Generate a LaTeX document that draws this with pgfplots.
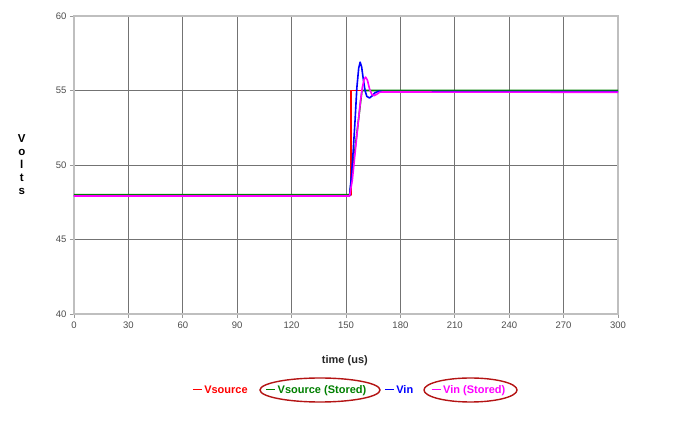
\documentclass[border=0pt]{standalone}
\usepackage{pgfplots}
\pgfplotsset{compat=1.18}
\usepackage{fontspec}
\setmainfont{Liberation Sans}
\definecolor{vgreen}{RGB}{0,128,0}
\definecolor{vred}{RGB}{255,0,0}
\definecolor{vblue}{RGB}{0,0,255}
\definecolor{vmag}{RGB}{255,0,255}
\definecolor{ringred}{RGB}{180,20,20}
\begin{document}
\begin{tikzpicture}[x=1pt,y=1pt]
\begin{axis}[
  at={(0,0)}, anchor=south west,
  scale only axis, width=544pt, height=298pt,
  xmin=0, xmax=300, ymin=40, ymax=60,
  xtick distance=30, ytick distance=5,
  xtick pos=lower, ytick pos=left,
  tick align=outside, major tick length=4pt,
  tick style={black!40, line width=0.8pt},
  grid=major, major grid style={black!55, line width=0.8pt},
  axis line style={black!25, line width=1.6pt},
  /pgf/number format/assume math mode=true,
  ticklabel style={font=\fontsize{9.5}{11}\selectfont, text=black!70},
  xlabel={\bfseries time (us)},
  xlabel style={font=\fontsize{11}{13}\selectfont, text=black!85, at={(rel axis cs:0.498,-0.158)}, anchor=center},
  ylabel={\parbox{12pt}{\centering V\\o\\l\\t\\s}},
  ylabel style={font=\bfseries\fontsize{11.5}{13}\selectfont, rotate=-90, at={(rel axis cs:-0.096,0.5)}, anchor=center},
  legend columns=4,
  legend style={at={(rel axis cs:0.507,-0.255)}, anchor=center, draw=none,
    font=\bfseries\fontsize{11}{13}\selectfont,
    /tikz/every even column/.append style={column sep=16pt}},
  legend image code/.code={\draw[#1, line width=1pt] (0pt,0pt) -- (9pt,0pt);},
  every axis plot/.append style={line width=1.6pt, line join=round},
]
\addplot[vred] coordinates {(0,48) (152.8,48) (152.8,55) (300,55)};
\addlegendentry{\textcolor{vred}{Vsource}}
\addplot[vgreen] coordinates {(0,48) (152,48) (158.8,55) (300,55)};
\addlegendentry{\textcolor{vgreen}{Vsource (Stored)}}
\addplot[vblue] coordinates {(0,47.93) (152,47.93) (153,49.3) (154,51) (155,53) (156,55.2)
  (157,56.5) (157.8,56.9) (158.6,56.6) (159.5,55.8) (160.5,55) (161.5,54.6) (163,54.5)
  (164.5,54.65) (166,54.85) (168,54.95) (170,54.93) (173,54.92) (300,54.92)};
\addlegendentry{\textcolor{vblue}{Vin}}
\addplot[vmag] coordinates {(0,47.92) (152,47.92) (153.5,49) (155,50.8) (156.5,52.6)
  (158,54.3) (159,55.2) (160,55.75) (160.8,55.9) (161.8,55.7) (163,55.1) (164.2,54.75)
  (165.5,54.65) (167,54.75) (168.5,54.88) (170,54.9) (300,54.88)};
\addlegendentry{\textcolor{vmag}{Vin (Stored)}}
\end{axis}
\draw[ringred, line width=1.4pt] (246,-76) ellipse [x radius=60, y radius=12];
\draw[ringred, line width=1.4pt] (396.5,-76) ellipse [x radius=46.5, y radius=12];
\useasboundingbox (-74,-127) rectangle (601,314);
\end{tikzpicture}
\end{document}
